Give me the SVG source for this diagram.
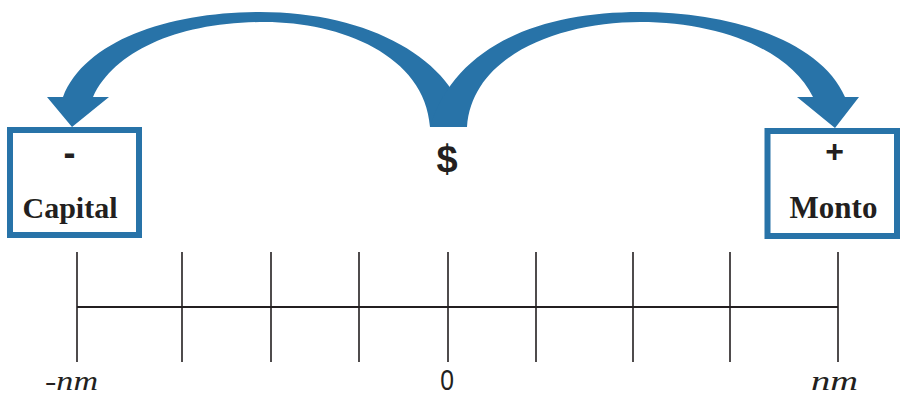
<svg xmlns="http://www.w3.org/2000/svg" width="902" height="397" viewBox="0 0 902 397">
<style>
.arc{fill:#2873a8;stroke:none}
.box{fill:#fff;stroke:#2873a8;stroke-width:6}
.ser{font-family:"Liberation Serif",serif;font-weight:bold;fill:#231f20}
.sans{font-family:"Liberation Sans",sans-serif;fill:#231f20}
.tick{stroke:#231f20;stroke-width:1.6}
.it{font-family:"Liberation Serif",serif;font-style:italic;fill:#231f20}
</style>
<g id="connectors">
<path class="arc" d="M430,127 C425,55 340,22 265,22 C180,22 115,50 93,97 L109,97 L72,127 L47,97 L63,97 C85,40 170,12 260,12 C370,12 455,60 467,127 Z"/>
<path class="arc" d="M467,127 C472,55 560,22 640,22 C720,22 790,50 813,97 L797,97 L835,128 L859,97 L845,97 C820,40 730,12 640,12 C540,12 455,45 430,127 Z"/>
</g>
<g id="capital">
<rect class="box" x="10" y="130" width="129" height="105"/>
<text class="sans" x="69.5" y="165" font-size="36" font-weight="bold" text-anchor="middle">-</text>
<text class="ser" x="70" y="218" font-size="30" text-anchor="middle">Capital</text>
</g>
<g id="monto">
<rect class="box" x="767.5" y="131" width="129.5" height="105"/>
<text class="sans" x="834.5" y="162" font-size="32" font-weight="bold" text-anchor="middle">+</text>
<text class="ser" x="833.5" y="218" font-size="31" text-anchor="middle">Monto</text>
</g>
<g id="dollar">
<text class="sans" x="447" y="172" font-size="38" font-weight="bold" text-anchor="middle">$</text>
</g>
<g id="timeline">
<line x1="77" y1="307" x2="838" y2="307" stroke="#231f20" stroke-width="2"/>
<line class="tick" x1="77" y1="252" x2="77" y2="362"/>
<line class="tick" x1="182" y1="252" x2="182" y2="362"/>
<line class="tick" x1="271" y1="252" x2="271" y2="362"/>
<line class="tick" x1="359" y1="252" x2="359" y2="362"/>
<line class="tick" x1="448" y1="252" x2="448" y2="362"/>
<line class="tick" x1="536" y1="252" x2="536" y2="362"/>
<line class="tick" x1="633" y1="252" x2="633" y2="362"/>
<line class="tick" x1="730" y1="252" x2="730" y2="362"/>
<line class="tick" x1="838" y1="252" x2="838" y2="362"/>
<text class="it" x="45" y="390" font-size="28" textLength="53" lengthAdjust="spacingAndGlyphs">-nm</text>
<text class="sans" x="0" y="0" font-size="29" text-anchor="middle" transform="translate(447,390) scale(0.85,1)">0</text>
<text class="it" x="811" y="390" font-size="28" textLength="47" lengthAdjust="spacingAndGlyphs">nm</text>
</g>
</svg>
